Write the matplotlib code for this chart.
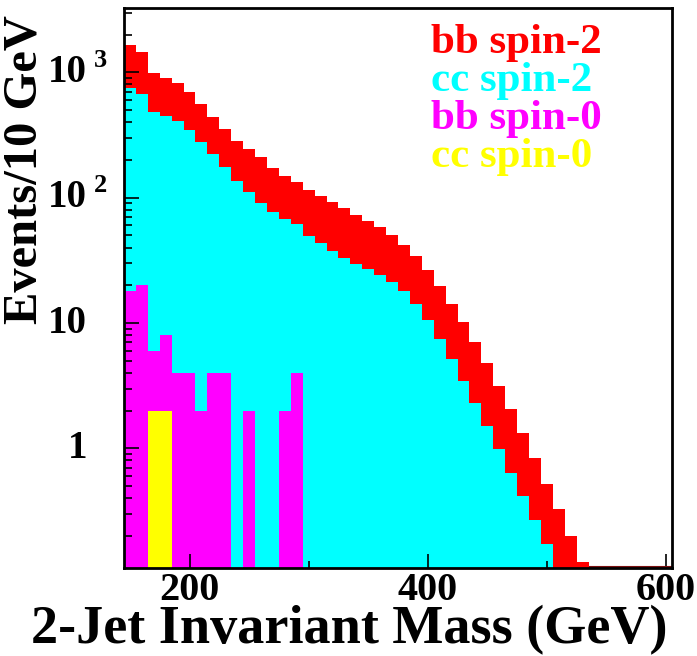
import numpy as np
import matplotlib.pyplot as plt
import matplotlib.transforms as mtransforms

plt.rcParams['font.family'] = ['Liberation Serif', 'DejaVu Serif']
plt.rcParams['font.weight'] = 'bold'

# 10 GeV bins from 145 to 605 GeV
edges = np.arange(145, 606, 10)

bb_spin2 = [1651, 1443, 993, 901, 817, 697, 560, 440, 351, 285,
            246, 210, 173, 150, 133, 115, 103, 92, 82, 73,
            65, 58, 50, 42, 34, 26.4, 19.8, 14.3, 10.1, 7.06,
            4.76, 3.16, 2.07, 1.32, 0.835, 0.524, 0.328, 0.200, 0.124, 0,
            0, 0, 0, 0, 0, 0]
cc_spin2 = [745, 668, 485, 449, 407, 348, 280, 222, 175, 135,
            111, 91, 77, 68, 61.7, 49.5, 43.3, 37.6, 32.9, 29.5,
            26.9, 24.1, 21.4, 18.0, 14.2, 10.5, 7.47, 5.14, 3.47, 2.29,
            1.51, 0.985, 0.638, 0.413, 0.266, 0.173, 0, 0, 0, 0,
            0, 0, 0, 0, 0, 0]
bb_spin0 = [18, 20, 6, 8, 4, 4, 2, 4, 4, 0,
            2, 0, 0, 2, 4] + [0] * 31
cc_spin0 = [0, 0, 2, 2] + [0] * 42

labels = ['bb spin-2', 'cc spin-2', 'bb spin-0', 'cc spin-0']
colors = ['#ff0000', '#00ffff', '#ff00ff', '#ffff00']

W, H = 697, 656
fig = plt.figure(figsize=(W / 100, H / 100), dpi=100)
ax = fig.add_axes([124 / W, 1 - 568 / H, (672 - 124) / W, (568 - 8) / H])

ymin, ymax = 0.111, 3260
base = 1e-3
for vals, c in zip([bb_spin2, cc_spin2, bb_spin0, cc_spin0], colors):
    v = np.maximum(np.array(vals, dtype=float), base)
    ax.stairs(v, edges, baseline=base, fill=True, color=c, linewidth=0)

# empty bins of the bb spin-2 histogram leave its outline on the floor
red = np.array(bb_spin2)
empty = red == 0
ax.hlines(np.full(empty.sum(), ymin * 1.01), edges[:-1][empty], edges[1:][empty],
          color='#7a1010', linewidth=1.5, zorder=4)

ax.set_yscale('log')
ax.set_xlim(145, 605)
ax.set_ylim(ymin, ymax)

for s in ax.spines.values():
    s.set_linewidth(2.0)
    s.set_zorder(5)

ax.set_xticks([200, 400, 600])
ax.set_xticks([300, 500], minor=True)
ax.tick_params(axis='x', which='major', direction='in', length=10, width=1.2,
               labelsize=29, pad=3, top=False)
ax.tick_params(axis='x', which='minor', direction='in', length=5, width=1.2, top=False)

ax.set_yticks([1, 10, 100, 1000])
ax.set_yticks([m * 10.0 ** e for e in range(-1, 4) for m in range(2, 10)
               if ymin < m * 10.0 ** e < ymax], minor=True)
ax.set_yticklabels([])
ax.set_yticklabels([], minor=True)
ax.tick_params(axis='y', which='major', direction='in', length=11, width=1.2, right=False)
ax.tick_params(axis='y', which='minor', direction='in', length=5.5, width=1.2, right=False)

# ROOT-like log labels: "10" with a detached exponent
trans = mtransforms.blended_transform_factory(ax.transAxes, ax.transData)
ylab = [(1, '1', None), (10, '10', None), (100, '10', '2'), (1000, '10', '3')]
for val, base_txt, expo in ylab:
    ax.annotate(base_txt, xy=(0, val), xycoords=trans, xytext=(-37 * 0.72, 0),
                textcoords='offset points', ha='right', va='center',
                fontsize=28, fontweight='bold', annotation_clip=False)
    if expo:
        ax.annotate(expo, xy=(0, val), xycoords=trans, xytext=(-17 * 0.72, 12 * 0.72),
                    textcoords='offset points', ha='right', va='center',
                    fontsize=19, fontweight='bold', annotation_clip=False)

# coloured labels in place of a legend box
for i, (lab, c) in enumerate(zip(labels, colors)):
    fig.text(431 / W, 1 - (53.3 + 37.8 * i) / H, lab, color=c, fontsize=31,
             fontweight='bold', ha='left', va='baseline')

fig.text(349 / W, 1 - 643 / H, '2-Jet Invariant Mass (GeV)', fontsize=39,
         fontweight='bold', ha='center', va='baseline')
fig.text(25 / W, 1 - 170 / H, 'Events/10 GeV', fontsize=35, fontweight='bold',
         rotation=90, ha='center', va='center')

fig.savefig('out.png', dpi=100)
